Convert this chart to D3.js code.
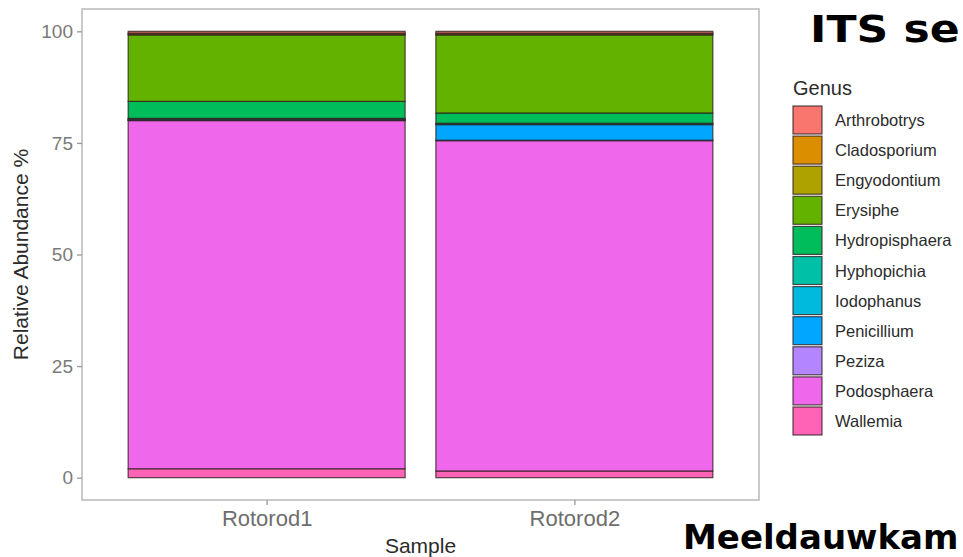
<!DOCTYPE html>
<html><head><meta charset="utf-8">
<script src="https://cdn.jsdelivr.net/npm/d3@7"></script>
<style>body{margin:0;background:#fff}svg{display:block}</style>
</head><body>
<svg id="c" width="963" height="557"></svg>
<script>
const samples = ["Rotorod1", "Rotorod2"];
const genera = ["Arthrobotrys","Cladosporium","Engyodontium","Erysiphe","Hydropisphaera","Hyphopichia","Iodophanus","Penicillium","Peziza","Podosphaera","Wallemia"];
const rotorod1 = [0.4, 0.3, 0.1, 14.9, 3.8, 0.2, 0.1, 0.1, 0.1, 78.0, 2.0];
const rotorod2 = [0.4, 0.3, 0.1, 17.5, 2.3, 0.2, 0.1, 3.5, 0.1, 74.0, 1.5];
const yTicks = [0, 25, 50, 75, 100];
const colors = ["#F8766D","#DB8E00","#AEA200","#64B200","#00BD5C","#00C1A7","#00BADE","#00A6FF","#B385FF","#EF67EB","#FF63B6"];

const svg = d3.select("#c");
const P = {l: 82, r: 759, t: 9, b: 500};
const FONT = "'Liberation Sans', Arial, sans-serif";

const rows = samples.map((s, i) => {
  const vals = [rotorod1, rotorod2][i];
  const o = {sample: s};
  genera.forEach((g, j) => o[g] = vals[j]);
  return o;
});
// ggplot stacks first level on top -> stack in reverse order
const stack = d3.stack().keys(genera.slice().reverse())(rows);

const x = d3.scaleLinear().domain([0.4, 2.6]).range([P.l, P.r]);
const y = d3.scaleLinear().domain([-5, 105]).range([P.b, P.t]);
const color = d3.scaleOrdinal().domain(genera).range(colors);

// panel border
svg.append("rect").attr("x", P.l).attr("y", P.t).attr("width", P.r - P.l).attr("height", P.b - P.t)
  .attr("fill", "#fff").attr("stroke", "#BDBDBD").attr("stroke-width", 1.6);

// bars
const bw = 0.9;
svg.append("g").selectAll("g").data(stack).join("g")
  .attr("fill", d => color(d.key))
  .selectAll("rect").data(d => d).join("rect")
  .attr("x", (d, i) => x(i + 1 - bw / 2))
  .attr("width", x(1 + bw / 2) - x(1 - bw / 2))
  .attr("y", d => y(d[1]))
  .attr("height", d => Math.max(0, y(d[0]) - y(d[1])))
  .attr("stroke", "#2e2020").attr("stroke-opacity", 0.8).attr("stroke-width", 1.2);

// y axis
const yAxis = d3.axisLeft(y).tickValues(yTicks).tickSize(5).tickPadding(4);
const ga = svg.append("g").attr("transform", `translate(${P.l},0)`).call(yAxis);
ga.select(".domain").remove();
ga.selectAll("line").attr("stroke", "#9E9E9E").attr("stroke-width", 1.4);
ga.selectAll("text").attr("fill", "#7A7A7A").style("font-family", FONT).style("font-size", "19px");

// x axis
const xAxis = d3.axisBottom(x).tickValues([1, 2]).tickFormat((d) => samples[d - 1]).tickSize(5).tickPadding(5);
const gx = svg.append("g").attr("transform", `translate(0,${P.b})`).call(xAxis);
gx.select(".domain").remove();
gx.selectAll("line").attr("stroke", "#9E9E9E").attr("stroke-width", 1.4);
gx.selectAll("text").attr("fill", "#6E6E6E").style("font-family", FONT).style("font-size", "22px");

// axis titles
svg.append("text").attr("x", (P.l + P.r) / 2).attr("y", 553).attr("text-anchor", "middle")
  .style("font-family", FONT).style("font-size", "21px").attr("fill", "#2b2b2b").text("Sample");
svg.append("text").attr("transform", `translate(28,${(P.t + P.b) / 2}) rotate(-90)`).attr("text-anchor", "middle")
  .style("font-family", FONT).style("font-size", "21px").attr("fill", "#2b2b2b").text("Relative Abundance %");

// legend
const lg = svg.append("g");
lg.append("text").attr("x", 793).attr("y", 95).style("font-family", FONT).style("font-size", "20px")
  .attr("fill", "#2b2b2b").text("Genus");
const items = lg.selectAll("g.it").data(genera).join("g").attr("class", "it")
  .attr("transform", (d, i) => `translate(793,${106 + i * 30.1})`);
items.append("rect").attr("width", 29).attr("height", 28).attr("fill", d => color(d))
  .attr("stroke", "#2e2020").attr("stroke-opacity", 0.8).attr("stroke-width", 1.2);
items.append("text").attr("x", 42).attr("y", 20).style("font-family", FONT).style("font-size", "16.5px")
  .attr("fill", "#2b2b2b").text(d => d);

// overlaid slide texts
svg.append("text").attr("transform", "translate(810,42) scale(1.16,1)")
  .style("font-family", "'DejaVu Sans', Verdana, sans-serif")
  .style("font-weight", "bold").style("font-size", "38px")
  .attr("fill", "#000").text("ITS se");
svg.append("text").attr("x", 683).attr("y", 549).style("font-family", "'DejaVu Sans', Verdana, sans-serif")
  .style("font-weight", "bold").style("font-size", "34px").attr("fill", "#000").text("Meeldauwkam");
</script>
</body></html>
